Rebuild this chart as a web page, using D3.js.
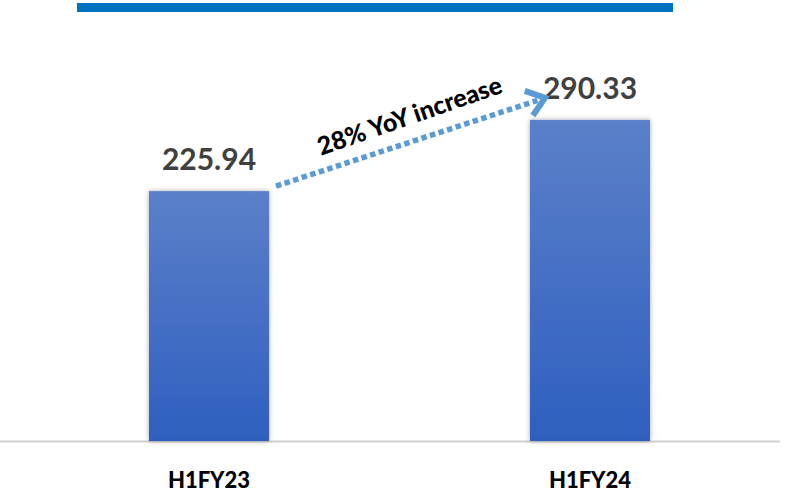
<!DOCTYPE html>
<html><head><meta charset="utf-8">
<script src="https://cdn.jsdelivr.net/npm/d3@7"></script>
<style>html,body{margin:0;padding:0;background:#fff;}svg{display:block;}</style>
</head><body>
<svg id="c" width="789" height="496"></svg>
<script>
const categories = ["H1FY23", "H1FY24"];
const values = [225.94, 290.33];
const valueLabels = ["225.94", "290.33"];
const annotation = "28% YoY increase";

const svg = d3.select("#c");
const font = "Lato, 'Open Sans', sans-serif";

const x = d3.scaleBand().domain(categories)
  .range([34.7, 764.3]).paddingInner(0.685).paddingOuter(0.3);
const y = d3.scaleLinear().domain([0, 300]).range([441, 441 - 331.8]);

const defs = svg.append("defs");
const g = defs.append("linearGradient").attr("id","bg").attr("x1",0).attr("y1",0).attr("x2",0).attr("y2",1);
g.append("stop").attr("offset","0%").attr("stop-color","#5b80c9");
g.append("stop").attr("offset","100%").attr("stop-color","#2f5fbf");
const f = defs.append("filter").attr("id","sh").attr("x","-20%").attr("y","-20%").attr("width","140%").attr("height","140%");
f.append("feDropShadow").attr("dx",0).attr("dy",0).attr("stdDeviation",2.5).attr("flood-color","#000").attr("flood-opacity",0.35);

// top banner line
svg.append("rect").attr("x",77).attr("y",3).attr("width",596).attr("height",9).attr("fill","#0070c0");

// baseline
svg.append("line").attr("x1",0).attr("x2",780).attr("y1",y(0)+0.5).attr("y2",y(0)+0.5)
  .attr("stroke","#d0d0d0").attr("stroke-width",2);

// bars
svg.selectAll("rect.bar").data(values).enter().append("rect").attr("class","bar")
  .attr("x",(d,i)=>x(categories[i])).attr("width",x.bandwidth())
  .attr("y",d=>y(d)).attr("height",d=>y(0)-y(d))
  .attr("fill","url(#bg)").attr("filter","url(#sh)");

// value labels
svg.selectAll("text.val").data(values).enter().append("text").attr("class","val")
  .attr("x",(d,i)=>x(categories[i])+x.bandwidth()/2).attr("y",d=>y(d)-21)
  .attr("text-anchor","middle").attr("font-family",font).attr("font-weight",700)
  .attr("font-size",30).attr("fill","#404040")
  .text((d,i)=>valueLabels[i]);

// category labels
const xAxis = svg.append("g").attr("transform",`translate(0,${y(0)})`)
  .call(d3.axisBottom(x).tickSize(0).tickPadding(31));
xAxis.select(".domain").remove();
xAxis.selectAll("text").attr("font-family",font).attr("font-weight",900)
  .attr("font-size",22).attr("fill","#000");

// arrow
const x0 = x(categories[0]) + x.bandwidth() + 7, y0 = y(values[0]) - 5;
const x1 = x(categories[1]) + 15, y1 = y(values[1]) - 22;
const ang = Math.atan2(y1 - y0, x1 - x0);
const len = Math.hypot(x1 - x0, y1 - y0);
const ag = svg.append("g").attr("transform",`translate(${x0},${y0}) rotate(${ang*180/Math.PI})`);
ag.append("line").attr("x1",0).attr("y1",0).attr("x2",len-8).attr("y2",0)
  .attr("stroke","#5b9bd5").attr("stroke-width",5.5).attr("stroke-dasharray","5.5 3.5");
ag.append("path").attr("d",`M${len-17},-13 L${len},0 L${len-17},13`)
  .attr("fill","none").attr("stroke","#5b9bd5").attr("stroke-width",6).attr("stroke-linejoin","miter");

// annotation text
const mx = (x0 + x1)/2 + 2, my = (y0 + y1)/2 - 18;
svg.append("text").attr("transform",`translate(${mx},${my}) rotate(${ang*180/Math.PI - 1})`)
  .attr("text-anchor","middle").attr("font-family",font).attr("font-weight",900)
  .attr("font-size",25).attr("fill","#000").text(annotation);
</script>
</body></html>
